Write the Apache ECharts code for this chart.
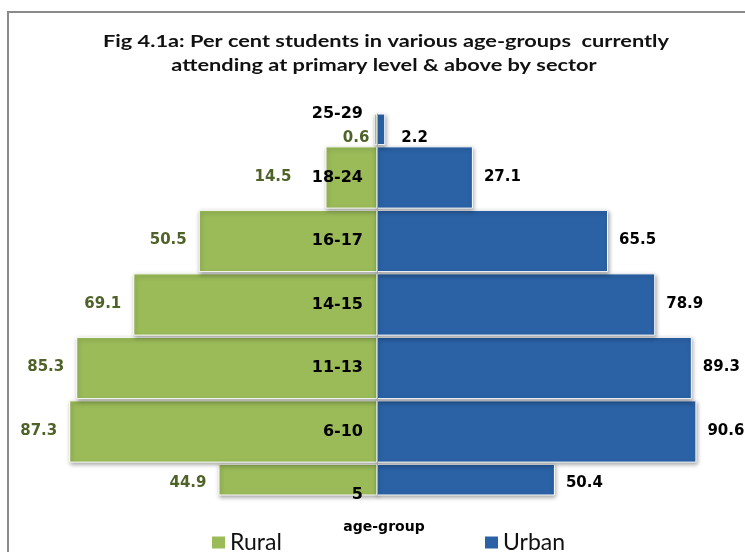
<!DOCTYPE html>
<html>
<head>
<meta charset="utf-8">
<script src="https://cdn.jsdelivr.net/npm/echarts@6/dist/echarts.min.js"></script>
<style>
html,body{margin:0;padding:0;background:#fff;}
#chart{width:745px;height:552px;}
</style>
</head>
<body>
<div id="chart"></div>
<script>
const categories = ['5', '6-10', '11-13', '14-15', '16-17', '18-24', '25-29'];
const rural = [44.9, 87.3, 85.3, 69.1, 50.5, 14.5, 0.6];
const urban = [50.4, 90.6, 89.3, 78.9, 65.5, 27.1, 2.2];
const titleLines = ['Fig 4.1a: Per cent students in various age-groups  currently', 'attending at primary level & above by sector'];
const axisName = 'age-group';

// label placement tweaks (style only), keyed by category
const labelTweaks = {
  '25-29': {dy: 9, ruralGap: 5, urbanGap: 17},
  '18-24': {ruralGap: 34},
  '5': {dy: 4}
};

const RURAL_COLOR = '#9bbb59', URBAN_COLOR = '#2b62a6';
const GRID_LEFT = 25, GRID_RIGHT = 16, W = 745;
const CENTER_OFFSET = (W - GRID_LEFT - GRID_RIGHT) / 2;

function makeRender(color, labelColor, side, gapKey) {
  return function (params, api) {
    const v = api.value(0), ci = api.value(1);
    const tw = labelTweaks[categories[ci]] || {};
    const p0 = api.coord([0, ci]);
    const p1 = api.coord([v, ci]);
    const h = api.size([0, 1])[1] * 0.965;
    const cs = params.coordSys;
    const rect = echarts.graphic.clipRectByRect(
      {x: Math.min(p0[0], p1[0]), y: p0[1] - h / 2, width: Math.abs(p1[0] - p0[0]), height: h},
      {x: cs.x, y: cs.y, width: cs.width, height: cs.height}
    );
    if (!rect) return null;
    const gap = tw[gapKey] != null ? tw[gapKey] : 12;
    const dy = tw.dy || 0;
    return {
      type: 'rect',
      shape: rect,
      style: {
        fill: color, stroke: '#ffffff', lineWidth: 1,
        shadowColor: 'rgba(0,0,0,0.35)', shadowBlur: 4, shadowOffsetX: 1, shadowOffsetY: 2
      },
      textContent: {
        style: {
          text: Math.abs(v).toFixed(1), fill: labelColor, font: 'bold 15px "DejaVu Sans"',
          align: side === 'left' ? 'right' : 'left', verticalAlign: 'middle'
        }
      },
      textConfig: {
        position: side === 'left' ? [-gap, rect.height / 2 + dy] : [rect.width + gap, rect.height / 2 + dy]
      }
    };
  };
}

const chart = echarts.init(document.getElementById('chart'), null, {renderer: 'canvas'});
chart.setOption({
  animation: false,
  backgroundColor: '#ffffff',
  graphic: [
    {type: 'rect', shape: {x: 8, y: 12, width: 800, height: 600}, style: {fill: 'none', stroke: '#8a8a8a', lineWidth: 2}, z: 0},
    {type: 'text', x: 386, y: 42, scaleX: 1.28, style: {text: titleLines[0], font: 'bold 17px Lato', fill: '#111', textAlign: 'center', textVerticalAlign: 'middle'}},
    {type: 'text', x: 384, y: 66, scaleX: 1.28, style: {text: titleLines[1], font: 'bold 17px Lato', fill: '#111', textAlign: 'center', textVerticalAlign: 'middle'}},
    {type: 'text', x: 384, y: 527, style: {text: axisName, font: 'bold 14px "DejaVu Sans"', fill: '#000', textAlign: 'center', textVerticalAlign: 'middle'}}
  ],
  legend: [
    {left: 207, top: 526, itemWidth: 13, itemHeight: 12, icon: 'rect', data: ['Rural'], textStyle: {fontFamily: 'Lato', fontSize: 23, color: '#111'}},
    {left: 480, top: 526, itemWidth: 13, itemHeight: 12, icon: 'rect', data: ['Urban'], textStyle: {fontFamily: 'Lato', fontSize: 23, color: '#111'}}
  ],
  grid: {left: GRID_LEFT, right: GRID_RIGHT, top: 114, bottom: 57, containLabel: false, outerBoundsMode: 'none'},
  xAxis: {
    type: 'value', min: -100, max: 100,
    axisLine: {show: false}, axisTick: {show: false}, axisLabel: {show: false}, splitLine: {show: false}
  },
  yAxis: {
    type: 'category',
    data: categories,
    boundaryGap: false,
    position: 'left',
    offset: -CENTER_OFFSET,
    z: 10,
    axisLine: {show: true, onZero: false, lineStyle: {color: '#a6a6a6', width: 1}},
    axisTick: {show: false},
    splitLine: {show: false},
    axisLabel: {margin: 14, fontFamily: 'DejaVu Sans', fontWeight: 'bold', fontSize: 16, color: '#000'}
  },
  series: [
    {
      name: 'Rural', type: 'custom', z: 2,
      itemStyle: {color: RURAL_COLOR},
      encode: {x: 0, y: 1},
      data: rural.map((v, i) => [-v, i]),
      renderItem: makeRender(RURAL_COLOR, '#4f6228', 'left', 'ruralGap')
    },
    {
      name: 'Urban', type: 'custom', z: 2,
      itemStyle: {color: URBAN_COLOR},
      encode: {x: 0, y: 1},
      data: urban.map((v, i) => [v, i]),
      renderItem: makeRender(URBAN_COLOR, '#000000', 'right', 'urbanGap')
    }
  ]
});
</script>
</body>
</html>
